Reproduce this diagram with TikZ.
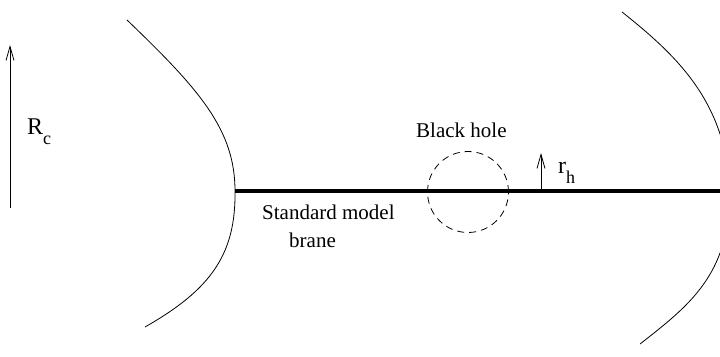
\documentclass[tikz,border=0pt]{standalone}
\usepackage{fontspec}
\setmainfont{Liberation Serif}
\usetikzlibrary{arrows.meta}
\newcommand{\lowsub}[1]{\raisebox{-10.5pt}{\fontsize{18}{18}\selectfont #1}}
\begin{document}
\begin{tikzpicture}[x=1pt,y=-1pt,
  lbl/.style={inner sep=0pt, anchor=base west, font=\fontsize{21}{26}\selectfont},
  bigl/.style={inner sep=0pt, anchor=base west, font=\fontsize{24}{28}\selectfont},
  arr/.style={line width=0.8pt, -{Straight Barb[length=14pt,width=8pt,line width=0.8pt]}}]
\useasboundingbox (0,0) rectangle (720,356);
% bulk boundaries
\begin{scope}
\clip (0,0) rectangle (720,356);
\draw[line width=0.8pt] (127,20) .. controls (200,90) and (235,130) .. (235,191)
  .. controls (236,255) and (210,290) .. (145,327);
\draw[line width=0.8pt] (622,12) .. controls (680,58) and (728,105) .. (730,196)
  .. controls (728,275) and (690,305) .. (640,344);
\end{scope}
% brane
\coordinate (braneL) at (235,191);
\coordinate (braneR) at (720,191);
\draw[line width=3.8pt] (braneL) -- (braneR);
\node[draw, circle, dashed, dash pattern=on 7pt off 5pt, line width=0.8pt, minimum size=81pt, inner sep=0pt] (bh) at (468,192) {};
% arrows
\coordinate (rcfoot) at (10,208);
\coordinate (rctip) at (10,45);
\draw[arr] (rcfoot) -- (rctip);
\coordinate (rhfoot) at (541,191);
\coordinate (rhtip) at (541,153);
\draw[arr] (rhfoot) -- (rhtip);
% labels
\node[bigl] (rc) at (27,134) {R\lowsub{c}};
\node[bigl] (rh) at (558,173) {r\lowsub{h}};
\node[lbl] (bhlabel) at (416,137) {Black hole};
\node[lbl] (sm) at (262,219) {Standard model};
\node[lbl] (br) at (289,247) {brane};
\end{tikzpicture}
\end{document}
